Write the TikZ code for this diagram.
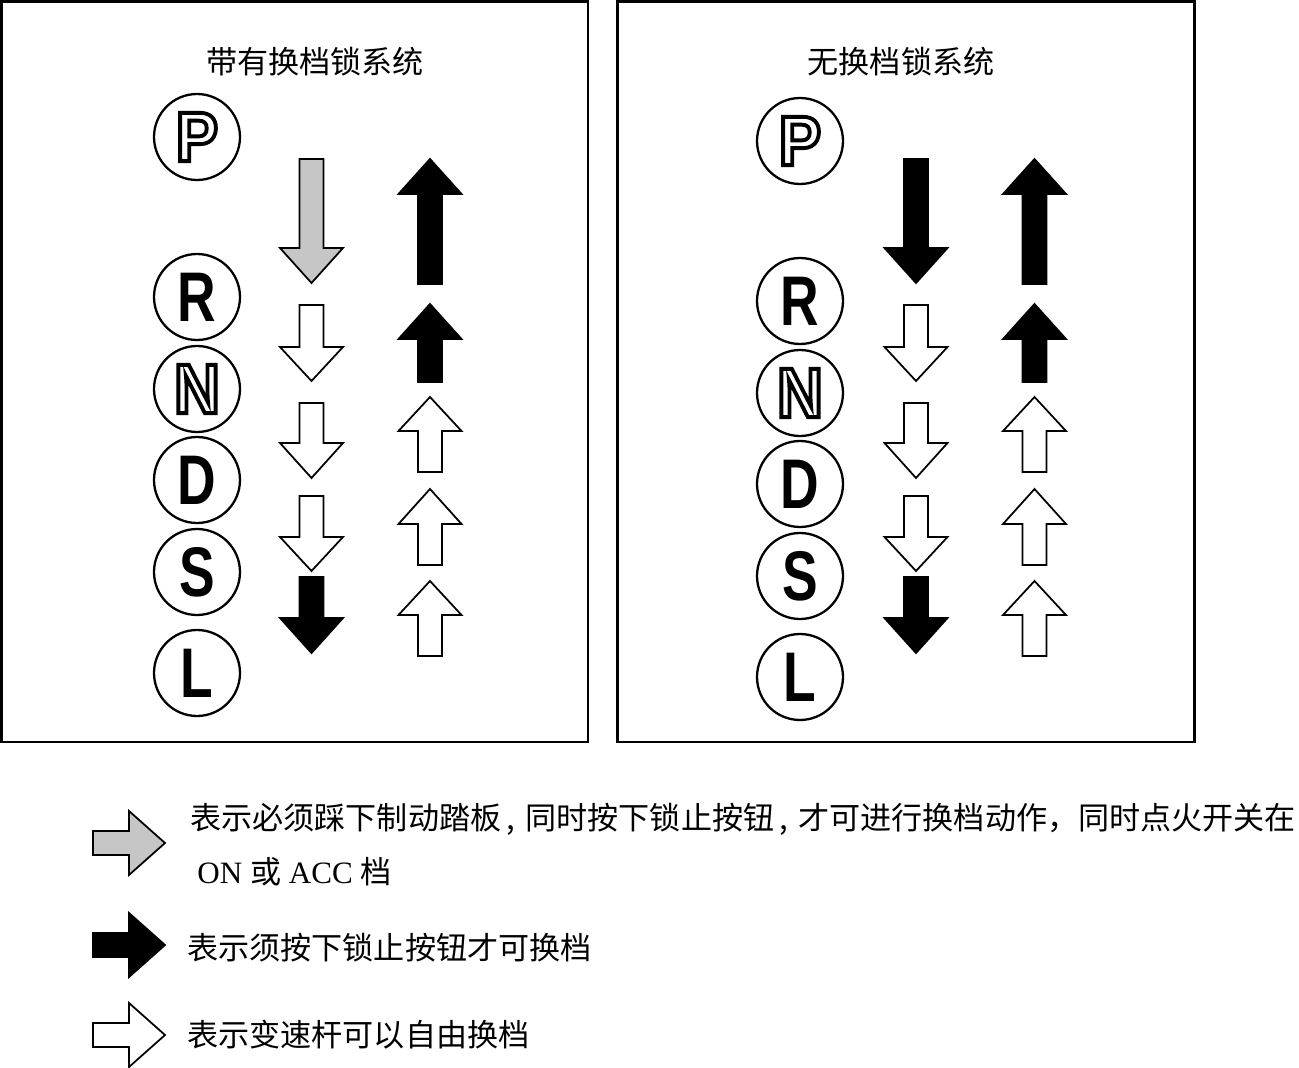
\documentclass[tikz,border=0pt]{standalone}
\usepackage{fontspec}
\setmainfont{Liberation Serif}
\newfontfamily\cjk{Noto Sans CJK SC}
\newfontfamily\gearfont[FakeStretch=0.76]{Liberation Sans}
\newfontfamily\hollowfont[FakeStretch=0.9]{Liberation Sans}
% outlined letters (text render mode 1)
\newcommand\hollow[1]{{\hollowfont\bfseries\special{pdf:literal direct 1 Tr 2.2 w}#1\special{pdf:literal direct 0 Tr}}}

\begin{document}
\begin{tikzpicture}[x=0.02cm,y=-0.02cm,line join=miter,
    panel/.style={draw,line width=1.7pt},
    gear/.style={circle,draw,line width=1.3pt,minimum size=1.72cm,inner sep=0pt,
      font=\gearfont\bfseries\fontsize{40}{40}\selectfont},
    blockarrow/.style={draw=black,line width=1pt},
    title/.style={font=\cjk\fontsize{17.7}{20}\selectfont,inner sep=0pt},
    legend/.style={font=\cjk\fontsize{17.7}{20}\selectfont,inner sep=0pt,anchor=west}]

\useasboundingbox (0,0) rectangle (1299,1068);

% the two panels
\draw[panel] (1.5,1.5) rectangle (588,742);
\draw[panel] (617.5,1.5) rectangle (1194,742);

\node[title] (lefttitle) at (315,62) {带有换档锁系统};
\node[title] (righttitle) at (901,62) {无换档锁系统};

% gear positions
\foreach \side/\dx/\dy in {L/0/0, R/603/4}
  \foreach \g/\y/\name in {\hollow{P}/137/P, R/297/R, \hollow{N}/389/N, D/480/D, S/572/S, L/673/L}
    \node[gear] (\name\side) at (197+\dx,\y+\dy) {\g};

% arrows down and up, same in both panels
\foreach \dx/\first in {0/gray!45, 604.5/black}{
  \begin{scope}[shift={(\dx,0)}]
    \foreach \t/\b/\p/\c in {159/248/283/\first, 305/347/381/white, 403/443/478/white,
        496/537/571/white, 577/618/653/black}
      \filldraw[blockarrow,fill=\c] (299.5,\t) -- (323.5,\t) -- (323.5,\b) -- (343,\b)
        -- (311.5,\p) -- (280,\b) -- (299.5,\b) -- cycle;
    \foreach \p/\b/\t/\c in {159/194/284/black, 304/339/382/black, 397/431/472/white,
        489/524/565/white, 581/615/656/white}
      \filldraw[blockarrow,fill=\c] (418,\t) -- (442,\t) -- (442,\b) -- (461.5,\b)
        -- (430,\p) -- (398.5,\b) -- (418,\b) -- cycle;
  \end{scope}
}

% legend
\foreach \yc/\c in {843/gray!45, 945/black, 1035/white}
  \filldraw[blockarrow,fill=\c] (93,\yc-12) -- (129,\yc-12) -- (129,\yc-32) -- (165,\yc)
    -- (129,\yc+32) -- (129,\yc+12) -- (93,\yc+12) -- cycle;

\node[legend] (graytext) at (190,819)
  {表示必须踩下制动踏板\,,\,\,同时按下锁止按钮\,,\,\,才可进行换档动作，同时点火开关在};
\node[legend] (graytext2) at (197,872)
  {\rmfamily ON {\cjk 或} ACC {\cjk 档}};
\node[legend] (blacktext) at (187,948) {表示须按下锁止按钮才可换档};
\node[legend] (whitetext) at (187,1035) {表示变速杆可以自由换档};

\end{tikzpicture}
\end{document}
